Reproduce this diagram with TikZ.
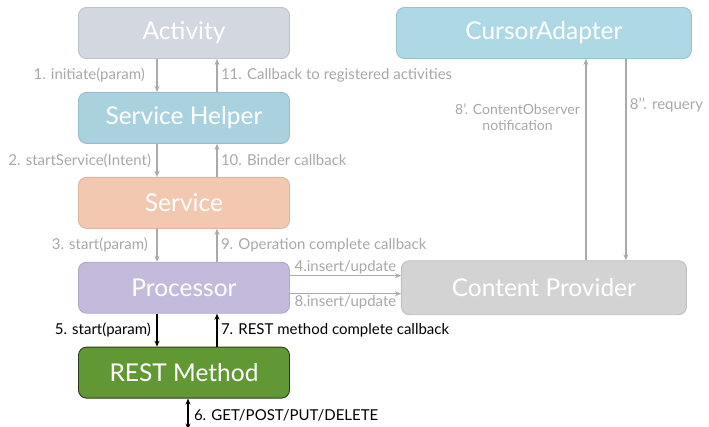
\documentclass[tikz,border=0pt]{standalone}
\usepackage{fontspec}
\setmainfont{Lato}
\usepackage{tikz}
\usetikzlibrary{arrows.meta, positioning}

\definecolor{actfill}{RGB}{211,215,223}
\definecolor{actline}{RGB}{190,194,202}
\definecolor{helpfill}{RGB}{170,210,222}
\definecolor{helpline}{RGB}{150,190,202}
\definecolor{servfill}{RGB}{242,201,176}
\definecolor{servline}{RGB}{222,181,156}
\definecolor{procfill}{RGB}{195,186,220}
\definecolor{procline}{RGB}{175,166,200}
\definecolor{restfill}{RGB}{98,152,52}
\definecolor{restline}{RGB}{40,60,28}
\definecolor{cursfill}{RGB}{173,216,228}
\definecolor{cursline}{RGB}{150,195,208}
\definecolor{provfill}{RGB}{211,211,211}
\definecolor{provline}{RGB}{190,190,190}
\definecolor{labgray}{RGB}{168,168,168}
\definecolor{arrgray}{RGB}{170,170,170}

\begin{document}
\begin{tikzpicture}[x=1pt,y=-1pt,>=Stealth,node distance=33pt,
  box/.style={draw,rounded corners=8pt,line width=0.9pt,minimum width=211pt,minimum height=51pt,text=white,font=\fontsize{24.5}{26}\selectfont},
  lbl/.style={text=labgray,font=\fontsize{15}{17}\selectfont},
  blbl/.style={text=black,font=\fontsize{15}{17}\selectfont},
  flow/.style={-{Stealth[length=6pt,width=5pt]},draw=arrgray,line width=1.4pt},
  bflow/.style={-{Stealth[length=6pt,width=5pt]},draw=black,line width=1.4pt}]
  \useasboundingbox (0,0) rectangle (709,426);

  % left column
  \node[box,fill=actfill,draw=actline] (activity) at (184,33) {Activity};
  \node[box,fill=helpfill,draw=helpline,below=of activity] (helper) {Service Helper};
  \node[box,fill=servfill,draw=servline,below=of helper] (service) {Service};
  \node[box,fill=procfill,draw=procline,below=of service] (processor) {Processor};
  \node[box,fill=restfill,draw=restline,below=of processor] (rest) {REST Method};
  \coordinate[below=31pt of rest.south,xshift=4pt] (web);

  % right column
  \node[box,fill=cursfill,draw=cursline,minimum width=295pt,right=106pt of activity] (cursor) {CursorAdapter};
  \node[box,fill=provfill,draw=provline,minimum width=285pt,minimum height=54pt,right=111pt of processor] (provider) {Content Provider};

  % calls down, callbacks up
  \draw[flow] ([xshift=-27pt]activity.south) -- node[lbl,left,xshift=-8pt] {1. initiate(param)} ([xshift=-27pt]helper.north);
  \draw[flow] ([xshift=33pt]helper.north) -- node[lbl,right] {11. Callback to registered activities} ([xshift=33pt]activity.south);
  \draw[flow] ([xshift=-27pt]helper.south) -- node[lbl,left,xshift=-2pt] {2. startService(Intent)} ([xshift=-27pt]service.north);
  \draw[flow] ([xshift=33pt]service.north) -- node[lbl,right] {10. Binder callback} ([xshift=33pt]helper.south);
  \draw[flow] ([xshift=-27pt]service.south) -- node[lbl,left,xshift=-5pt] {3. start(param)} ([xshift=-27pt]processor.north);
  \draw[flow] ([xshift=33pt]processor.north) -- node[lbl,right] {9. Operation complete callback} ([xshift=33pt]service.south);
  \draw[bflow] ([xshift=-27pt]processor.south) -- node[blbl,left,xshift=-2pt] {5. start(param)} ([xshift=-27pt]rest.north);
  \draw[bflow] ([xshift=33pt]rest.north) -- node[blbl,right] {7. REST method complete callback} ([xshift=33pt]processor.south);
  \draw[{Stealth[length=6pt,width=5pt]}-{Stealth[length=6pt,width=5pt]},line width=1.4pt] ([xshift=4pt]rest.south) -- node[blbl,right,pos=0.55,xshift=2pt] {6. GET/POST/PUT/DELETE} (web);

  % content provider
  \draw[flow] ([yshift=12pt]processor.east) -- node[lbl,above,inner sep=1pt] {4.insert/update} ([yshift=12pt]processor.east -| provider.west);
  \draw[flow] ([yshift=-6pt]processor.east) -- node[lbl,below,inner sep=1.5pt] {8.insert/update} ([yshift=-6pt]processor.east -| provider.west);
  \draw[flow] ([xshift=42pt]provider.north) -- node[lbl,left,pos=0.71,xshift=-2pt,align=center,font=\fontsize{14}{16.5}\selectfont] {8’. ContentObserver\\notification} ([xshift=42pt]provider.north |- cursor.south);
  \draw[flow] ([xshift=82pt]provider.north |- cursor.south) -- node[lbl,right,pos=0.23] {8’’. requery} ([xshift=82pt]provider.north);
\end{tikzpicture}
\end{document}
